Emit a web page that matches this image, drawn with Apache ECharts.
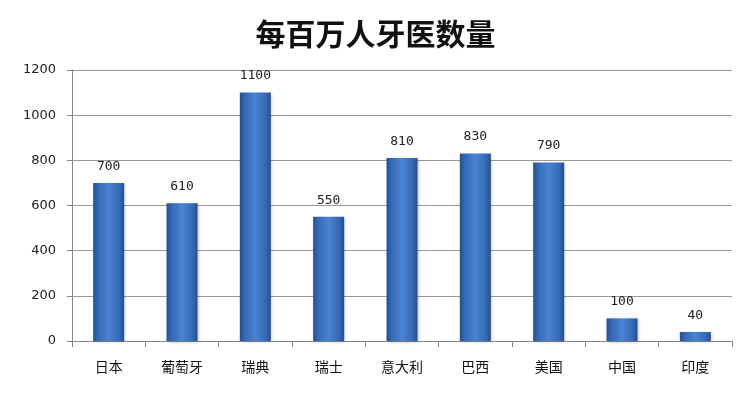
<!DOCTYPE html>
<html><head><meta charset="utf-8">
<script src="https://cdn.jsdelivr.net/npm/echarts@6/dist/echarts.min.js"></script>
<style>html,body{margin:0;padding:0;background:#fff}#c{width:751px;height:396px}</style>
</head><body><div id="c"></div>
<script>
const categories = ['日本','葡萄牙','瑞典','瑞士','意大利','巴西','美国','中国','印度'];
const values = [700, 610, 1100, 550, 810, 830, 790, 100, 40];
const yTicks = [0, 200, 400, 600, 800, 1000, 1200];

const chart = echarts.init(document.getElementById('c'), null, {renderer:'canvas'});
const barColor = new echarts.graphic.LinearGradient(0,0,1,0,[
  {offset:0, color:'#234f8f'},
  {offset:0.15, color:'#3468b4'},
  {offset:0.5, color:'#4a84d2'},
  {offset:0.85, color:'#3468b4'},
  {offset:1, color:'#234f8f'}
]);
chart.setOption({
  animation:false,
  title:{text:'每百万人牙医数量', left:'center', top:14,
    textStyle:{fontFamily:'Noto Sans CJK SC', fontWeight:'bold', fontSize:30, color:'#111'}},
  grid:{left:72, right:19, top:70, bottom:55, containLabel:false},
  xAxis:{type:'category', data:categories,
    axisLine:{lineStyle:{color:'#888', width:1}},
    axisTick:{show:true, alignWithLabel:false, length:6, lineStyle:{color:'#888'}},
    axisLabel:{color:'#111', fontSize:14, margin:19, fontFamily:'Noto Sans CJK SC'}},
  yAxis:{type:'value', min:yTicks[0], max:yTicks[yTicks.length-1], interval:200,
    axisLine:{show:true, lineStyle:{color:'#888'}},
    axisTick:{show:true, length:5, lineStyle:{color:'#888'}},
    axisLabel:{color:'#222', fontSize:13, margin:16, fontFamily:'DejaVu Sans', formatter:v => String(v)},
    splitLine:{lineStyle:{color:'#999', width:1}}},
  series:[{type:'bar', data:values, barWidth:31,
    itemStyle:{color:barColor, shadowColor:'rgba(0,0,0,0.25)', shadowBlur:3, shadowOffsetX:1, shadowOffsetY:1},
    label:{show:true, position:'top', distance:10, color:'#222', fontSize:13, fontFamily:'DejaVu Sans Mono'}
  }]
});
</script></body></html>
